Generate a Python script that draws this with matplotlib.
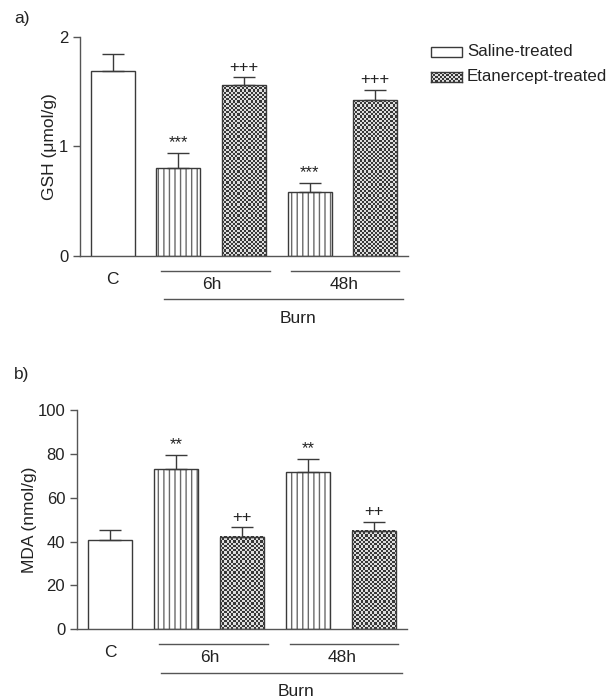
import numpy as np
import matplotlib
matplotlib.use("Agg")
import matplotlib.pyplot as plt
from matplotlib.patches import Rectangle

plt.rcParams['font.family'] = ['Liberation Sans', 'DejaVu Sans']
plt.rcParams['hatch.linewidth'] = 1.0

# data
groups = ['C', '6h saline', '6h etanercept', '48h saline', '48h etanercept']
kinds = ['blank', 'lines', 'checker', 'lines', 'checker']
gsh = [1.69, 0.80, 1.56, 0.58, 1.42]
gsh_err = [0.15, 0.14, 0.07, 0.09, 0.10]
gsh_marks = ['', '***', '+++', '***', '+++']
mda = [40.6, 73.2, 42.1, 71.9, 44.8]
mda_err = [4.7, 6.3, 4.4, 5.9, 4.3]
mda_marks = ['', '**', '++', '**', '++']

EDGE = '#3a3a3a'
TXT = '#222222'


def checker(nrow, ncol):
    ii, jj = np.indices((nrow, ncol))
    return ((ii + jj) % 2).astype(float)


def draw_panel(ax, vals, errs, marks, ylim, yticks, ylabel, labelpad):
    x = np.arange(len(vals))
    width = 0.67
    ax.set_xlim(-0.5, 4.5)
    ax.set_ylim(0, ylim)
    fig = ax.figure
    fig.canvas.draw()
    for xi, v, kind in zip(x, vals, kinds):
        if kind == 'lines':
            ax.bar(xi, v, width, color='white', edgecolor='#6a6a6a',
                   linewidth=0, hatch='|||', zorder=2)
        bar = ax.bar(xi, v, width, fill=(kind == 'blank'), color='white',
                     edgecolor=EDGE, linewidth=1.0, zorder=3)[0]
        if kind == 'checker':
            p0 = ax.transData.transform((xi - width / 2, 0))
            p1 = ax.transData.transform((xi + width / 2, v))
            ncol = max(1, int(round((p1[0] - p0[0]) / 2.2)))
            nrow = max(1, int(round((p1[1] - p0[1]) / 2.2)))
            ax.imshow(checker(nrow, ncol), cmap='gray', vmin=-0.35, vmax=1.2,
                      extent=(xi - width / 2, xi + width / 2, 0, v),
                      interpolation='nearest', aspect='auto',
                      clip_path=bar, zorder=2.5)
    ax.errorbar(x, vals, yerr=[np.zeros(len(errs)), errs], fmt='none',
                ecolor=EDGE, elinewidth=1.0, capsize=8, capthick=1.0,
                zorder=4)
    for xi, v, e, m in zip(x, vals, errs, marks):
        if m:
            ax.annotate(m, (xi, v + e), xytext=(0, 2),
                        textcoords='offset points', ha='center', va='bottom',
                        fontsize=12, color=TXT)
    ax.set_xlim(-0.5, 4.5)
    ax.set_ylim(0, ylim)
    ax.set_yticks(yticks)
    ax.set_xticks([])
    ax.spines['top'].set_visible(False)
    ax.spines['right'].set_visible(False)
    for s in ['left', 'bottom']:
        ax.spines[s].set_color('#555555')
        ax.spines[s].set_linewidth(1.0)
    ax.tick_params(axis='y', direction='out', length=5, width=1.0,
                   colors='#555555', labelcolor=TXT, labelsize=12)
    ax.set_ylabel(ylabel, fontsize=12.5, color=TXT, labelpad=labelpad)

    tr = ax.get_xaxis_transform()
    lines = [((0.74, 2.39), -0.067), ((2.72, 4.36), -0.067),
             ((0.78, 4.43), -0.197)]
    for (xa, xb), yy in lines:
        ax.plot([xa, xb], [yy, yy], color='#555555', lw=1.0,
                transform=tr, clip_on=False)
    ax.text(0, -0.108, 'C', transform=tr, ha='center', va='center',
            fontsize=12.5, color=TXT)
    ax.text(1.51, -0.13, '6h', transform=tr, ha='center', va='center',
            fontsize=12.5, color=TXT)
    ax.text(3.52, -0.13, '48h', transform=tr, ha='center', va='center',
            fontsize=12.5, color=TXT)
    ax.text(2.82, -0.284, 'Burn', transform=tr, ha='center', va='center',
            fontsize=12.5, color=TXT)


fig = plt.figure(figsize=(6.13, 6.99), dpi=100)
ax1 = fig.add_axes([0.1305, 0.6338, 0.535, 0.3133])
ax2 = fig.add_axes([0.1256, 0.0997, 0.5384, 0.3137])

draw_panel(ax1, gsh, gsh_err, gsh_marks, 2, [0, 1, 2],
           'GSH (\u03bcmol/g)', 1)
draw_panel(ax2, mda, mda_err, mda_marks, 100, [0, 20, 40, 60, 80, 100],
           'MDA (nmol/g)', 0)

fig.text(14 / 613, 1 - 18 / 699, 'a)', fontsize=12.5, color=TXT,
         ha='left', va='center')
fig.text(14 / 613, 1 - 375 / 699, 'b)', fontsize=12.5, color=TXT,
         ha='left', va='center')

# legend drawn by hand so the checker box matches the bars
W, H = 613.0, 699.0
fig.patches.append(Rectangle((431 / W, 1 - 56.7 / H), 31 / W, 10 / H,
                             transform=fig.transFigure, facecolor='white',
                             edgecolor=EDGE, linewidth=1.0))
leg_ax = fig.add_axes([431 / W, 1 - 81.7 / H, 31 / W, 10 / H])
leg_ax.imshow(checker(5, 14), cmap='gray', vmin=-0.35, vmax=1.2,
              interpolation='nearest', aspect='auto')
leg_ax.set_xticks([])
leg_ax.set_yticks([])
for s in leg_ax.spines.values():
    s.set_color(EDGE)
    s.set_linewidth(1.0)
fig.text(467 / W, 1 - 51.7 / H, 'Saline-treated', fontsize=12.2, color=TXT,
         ha='left', va='center')
fig.text(467 / W, 1 - 76.7 / H, 'Etanercept-treated', fontsize=12.2,
         color=TXT, ha='left', va='center')

fig.savefig('out.png', dpi=100)
